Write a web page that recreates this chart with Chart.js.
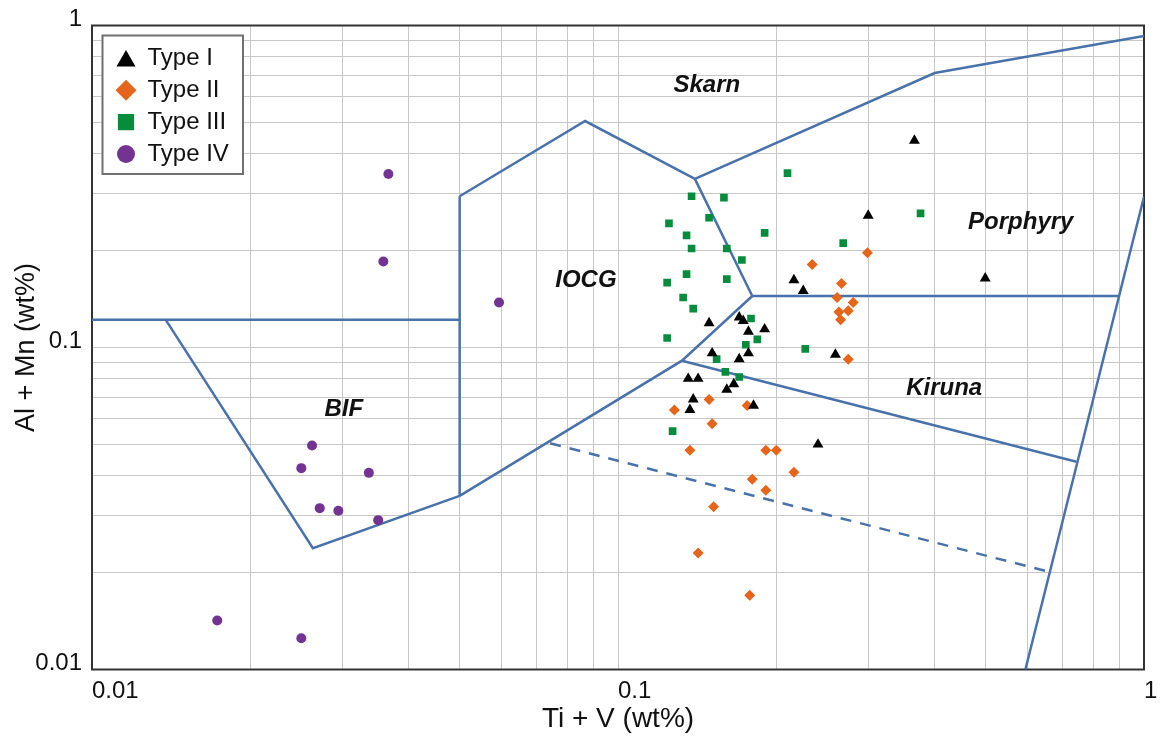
<!DOCTYPE html>
<html>
<head>
<meta charset="utf-8">
<title>Al + Mn vs Ti + V</title>
<script src="https://cdn.jsdelivr.net/npm/chart.js@4.4.1/dist/chart.umd.min.js"></script>
<style>
  html, body { margin: 0; padding: 0; background: #fff; }
  #wrap { width: 1161px; height: 748px; }
</style>
</head>
<body>
<div id="wrap"><canvas id="chart"></canvas></div>
<script>
// Magnetite samples, Ti + V (x) against Al + Mn (y), wt%
const seriesNames = ['Type I', 'Type II', 'Type III', 'Type IV'];

const typeI_x = [0.366, 0.299, 0.499, 0.216, 0.225, 0.149, 0.170, 0.173, 0.177, 0.190, 0.151,
                 0.170, 0.177, 0.259, 0.136, 0.142, 0.166, 0.161, 0.139, 0.137, 0.181, 0.240];
const typeI_y = [0.439, 0.257, 0.164, 0.162, 0.150, 0.119, 0.124, 0.121, 0.112, 0.114, 0.096,
                 0.092, 0.096, 0.095, 0.080, 0.080, 0.077, 0.074, 0.069, 0.064, 0.066, 0.050];

const typeII_x = [0.298, 0.234, 0.266, 0.261, 0.280, 0.263, 0.274, 0.265, 0.274, 0.149, 0.128,
                  0.176, 0.151, 0.137, 0.191, 0.200, 0.180, 0.216, 0.191, 0.152, 0.142, 0.178];
const typeII_y = [0.197, 0.181, 0.158, 0.143, 0.138, 0.129, 0.130, 0.122, 0.092, 0.069, 0.064,
                  0.066, 0.058, 0.048, 0.048, 0.048, 0.039, 0.041, 0.036, 0.032, 0.023, 0.017];

const typeIII_x = [0.210, 0.138, 0.159, 0.149, 0.125, 0.190, 0.135, 0.138, 0.161, 0.172, 0.135, 0.161, 0.124,
                   0.133, 0.139, 0.179, 0.124, 0.175, 0.184, 0.227, 0.154, 0.160, 0.170, 0.127, 0.376, 0.268];
const typeIII_y = [0.348, 0.295, 0.292, 0.253, 0.243, 0.227, 0.223, 0.203, 0.203, 0.187, 0.169, 0.163, 0.159,
                   0.143, 0.132, 0.123, 0.107, 0.102, 0.106, 0.099, 0.092, 0.084, 0.081, 0.055, 0.261, 0.211];

const typeIV_x = [0.0366, 0.0358, 0.0594, 0.0262, 0.0250, 0.0336, 0.0271, 0.0294, 0.0350, 0.0173, 0.0250];
const typeIV_y = [0.346, 0.185, 0.138, 0.0496, 0.0422, 0.0408, 0.0317, 0.0311, 0.0291, 0.0142, 0.0125];

// Field boundaries, [x, y] vertices
const leftEdge = [[0.01, 0.122], [0.05, 0.122]];
const bifEdge = [[0.0138, 0.122], [0.0263, 0.0238], [0.05, 0.0346]];
const iocgWest = [[0.05, 0.0346], [0.05, 0.295]];
const skarnBase = [[0.05, 0.295], [0.0866, 0.505], [0.140, 0.334], [0.40, 0.712], [1, 0.927]];
const iocgEast = [[0.140, 0.334], [0.180, 0.1445], [0.897, 0.1445]];
const iocgSouth = [[0.180, 0.1445], [0.1323, 0.0910], [0.05, 0.0346]];
const kirunaTop = [[0.1323, 0.0910], [0.744, 0.0442]];
const eastEdge = [[1, 0.294], [0.595, 0.01]];
const kirunaDashed = [[0.0743, 0.0504], [0.660, 0.0201]];

// Field names and where they sit (data units)
const zoneNames = ['Skarn', 'IOCG', 'BIF', 'Porphyry', 'Kiruna'];
const zoneX = [0.1475, 0.0869, 0.0301, 0.583, 0.417];
const zoneY = [0.653, 0.162, 0.0644, 0.2445, 0.0749];

// Grid lines and labelled ticks
const gridValues = [0.01, 0.02, 0.03, 0.04, 0.05, 0.06, 0.07, 0.08, 0.09,
                    0.1, 0.2, 0.3, 0.4, 0.5, 0.6, 0.7, 0.8, 0.9, 1];
const tickValues = [0.01, 0.1, 1];
const tickLabels = ['0.01', '0.1', '1'];

const FONT = '"Liberation Sans", Arial, Helvetica, sans-serif';
const BLUE = '#4a72aa';
const colors = ['#000000', '#e5651a', '#078b3c', '#733393'];
const shapes = ['triangle', 'rectRot', 'rect', 'circle'];
const radii = [6.3, 5.5, 5.4, 5];
const legendRadius = [11, 10.5, 11.5, 9];

function zip(xs, ys) {
    return xs.map((x, i) => ({ x: x, y: ys[i] }));
}
function toPoints(list) {
    return list.map(p => ({ x: p[0], y: p[1] }));
}
function labelFor(v) {
    const i = tickValues.indexOf(v);
    return i < 0 ? '' : tickLabels[i];
}

const seriesData = [zip(typeI_x, typeI_y), zip(typeII_x, typeII_y),
                    zip(typeIII_x, typeIII_y), zip(typeIV_x, typeIV_y)];

const markerSets = seriesData.map((data, i) => ({
    label: seriesNames[i],
    data: data,
    pointStyle: shapes[i],
    pointRadius: radii[i],
    pointBackgroundColor: colors[i],
    backgroundColor: colors[i],
    pointBorderWidth: 0,
    showLine: false
}));

const boundaryLines = [leftEdge, bifEdge, iocgWest, skarnBase, iocgEast, iocgSouth, kirunaTop, eastEdge];
const lineSets = boundaryLines.map(b => ({
    label: '',
    data: toPoints(b),
    showLine: true,
    borderColor: BLUE,
    borderWidth: 2.5,
    pointRadius: 0,
    fill: false
}));
lineSets.push({
    label: '',
    data: toPoints(kirunaDashed),
    showLine: true,
    borderColor: BLUE,
    borderWidth: 2.5,
    borderDash: [11, 9],
    pointRadius: 0,
    fill: false
});

// frame round the plot area
const frame = {
    id: 'frame',
    beforeDatasetsDraw(chart) {
        const a = chart.chartArea, ctx = chart.ctx;
        ctx.save();
        ctx.strokeStyle = '#333';
        ctx.lineWidth = 2;
        ctx.strokeRect(a.left, a.top, a.right - a.left, a.bottom - a.top);
        ctx.restore();
    }
};

// field names
const zones = {
    id: 'zones',
    afterDatasetsDraw(chart) {
        const ctx = chart.ctx, sx = chart.scales.x, sy = chart.scales.y;
        ctx.save();
        ctx.font = 'italic bold 24px ' + FONT;
        ctx.fillStyle = '#111';
        ctx.textAlign = 'center';
        ctx.textBaseline = 'middle';
        zoneNames.forEach((name, i) => {
            ctx.fillText(name, sx.getPixelForValue(zoneX[i]), sy.getPixelForValue(zoneY[i]));
        });
        ctx.restore();
    }
};

// boxed legend in the top left corner
const boxLegend = {
    id: 'boxLegend',
    afterDatasetsDraw(chart) {
        const ctx = chart.ctx, a = chart.chartArea;
        const x0 = a.left + 10.5, y0 = a.top + 10;
        ctx.save();
        ctx.fillStyle = '#fff';
        ctx.fillRect(x0, y0, 140.5, 138.5);
        ctx.strokeStyle = '#707070';
        ctx.lineWidth = 2;
        ctx.strokeRect(x0, y0, 140.5, 138.5);
        ctx.font = '24px ' + FONT;
        ctx.textBaseline = 'middle';
        ctx.textAlign = 'left';
        seriesNames.forEach((name, i) => {
            const cy = y0 + 22.8 + i * 31.9;
            ctx.fillStyle = colors[i];
            const dy = shapes[i] === 'triangle' ? legendRadius[i] * 0.25 : 0;
            Chart.helpers.drawPoint(ctx, { pointStyle: shapes[i], radius: legendRadius[i], borderWidth: 0, rotation: 0 },
                x0 + 23.5, cy + dy);
            ctx.fillStyle = '#111';
            ctx.fillText(name, x0 + 45, cy);
        });
        ctx.restore();
    }
};

const ctx = document.getElementById('chart').getContext('2d');
const chart = new Chart(ctx, {
    type: 'scatter',
    data: { datasets: markerSets.concat(lineSets) },
    options: {
        responsive: true,
        maintainAspectRatio: false,
        animation: false,
        layout: { padding: { left: 0, right: 17, top: 25.5, bottom: 0 } },
        plugins: {
            legend: { display: false },
            tooltip: { enabled: false }
        },
        scales: {
            x: {
                type: 'logarithmic',
                min: 0.01,
                max: 1,
                afterBuildTicks: s => { s.ticks = gridValues.map(v => ({ value: v, major: tickValues.includes(v) })); },
                afterFit: s => { s.height = 78.5; s.paddingLeft = 0; s.paddingRight = 0; },
                grid: { color: '#c8c8c8', lineWidth: 1, drawTicks: false },
                border: { display: false },
                ticks: {
                    autoSkip: false, maxRotation: 0, align: 'start', padding: 7,
                    color: '#111', font: { family: FONT, size: 24 },
                    callback: v => labelFor(v)
                },
                title: {
                    display: true, text: 'Ti + V (wt%)', color: '#111',
                    font: { family: FONT, size: 28 }, padding: { top: 0, bottom: 12 }
                }
            },
            y: {
                type: 'logarithmic',
                min: 0.01,
                max: 1,
                afterBuildTicks: s => { s.ticks = gridValues.map(v => ({ value: v, major: tickValues.includes(v) })); },
                afterFit: s => { s.width = 92; s.paddingTop = 0; s.paddingBottom = 0; },
                grid: { color: '#c8c8c8', lineWidth: 1, drawTicks: false },
                border: { display: false },
                ticks: {
                    autoSkip: false, padding: 10,
                    color: '#111', font: { family: FONT, size: 24, lineHeight: '12px' },
                    // empty second line lifts the label a little above its grid line
                    callback: v => { const t = labelFor(v); return t ? [t, ''] : ''; }
                },
                title: {
                    display: true, text: 'Al + Mn (wt%)', color: '#111',
                    font: { family: FONT, size: 27 }, padding: { top: 10, bottom: 0 }
                }
            }
        }
    },
    plugins: [frame, zones, boxLegend]
});
</script>
</body>
</html>
